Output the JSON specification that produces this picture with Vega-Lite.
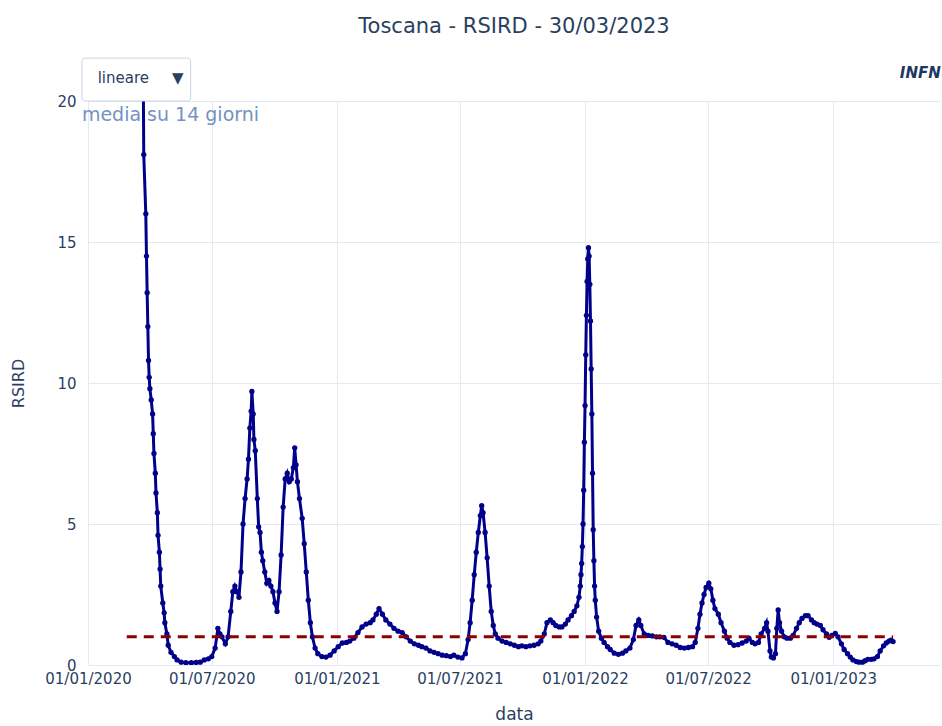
{
  "$schema": "https://vega.github.io/schema/vega-lite/v6.json",
  "width": 852,
  "height": 564,
  "autosize": {"type": "none"},
  "padding": {"left": 88, "top": 101, "right": 2, "bottom": 61},
  "background": "white",
  "config": {
    "font": "DejaVu Sans",
    "view": {"stroke": null},
    "axis": {
      "domain": false,
      "ticks": false,
      "grid": true,
      "gridColor": "#e4e9f2",
      "gridWidth": 1,
      "labelColor": "#2a3f5f",
      "labelFontSize": 15,
      "titleColor": "#2a3f5f",
      "titleFontSize": 17,
      "titleFontWeight": "normal",
      "labelFont": "DejaVu Sans",
      "titleFont": "DejaVu Sans"
    }
  },
  "title": {
    "text": "Toscana - RSIRD - 30/03/2023",
    "fontSize": 21,
    "fontWeight": "normal",
    "color": "#2a3f5f",
    "anchor": "middle",
    "offset": 21,
    "font": "DejaVu Sans"
  },
  "datasets": {
    "serie": [
      {"data": "2020-02-27", "R": 300},
      {"data": "2020-03-10", "R": 80},
      {"data": "2020-03-19", "R": 30},
      {"data": "2020-03-22", "R": 22},
      {"data": "2020-03-23", "R": 18.1},
      {"data": "2020-03-26", "R": 16.0},
      {"data": "2020-03-27", "R": 14.5},
      {"data": "2020-03-28", "R": 13.2},
      {"data": "2020-03-29", "R": 12.0},
      {"data": "2020-03-30", "R": 10.8},
      {"data": "2020-03-31", "R": 10.2},
      {"data": "2020-04-01", "R": 9.8},
      {"data": "2020-04-03", "R": 9.4},
      {"data": "2020-04-05", "R": 8.9},
      {"data": "2020-04-06", "R": 8.2},
      {"data": "2020-04-07", "R": 7.5},
      {"data": "2020-04-09", "R": 6.8},
      {"data": "2020-04-10", "R": 6.1},
      {"data": "2020-04-12", "R": 5.4},
      {"data": "2020-04-13", "R": 4.6},
      {"data": "2020-04-15", "R": 4.0},
      {"data": "2020-04-16", "R": 3.4},
      {"data": "2020-04-17", "R": 2.8},
      {"data": "2020-04-20", "R": 2.2},
      {"data": "2020-04-22", "R": 1.85},
      {"data": "2020-04-23", "R": 1.5},
      {"data": "2020-04-26", "R": 1.1},
      {"data": "2020-04-28", "R": 0.7},
      {"data": "2020-05-02", "R": 0.45},
      {"data": "2020-05-07", "R": 0.3},
      {"data": "2020-05-11", "R": 0.18},
      {"data": "2020-05-17", "R": 0.1},
      {"data": "2020-05-24", "R": 0.08},
      {"data": "2020-06-01", "R": 0.08},
      {"data": "2020-06-08", "R": 0.09},
      {"data": "2020-06-14", "R": 0.1},
      {"data": "2020-06-20", "R": 0.18},
      {"data": "2020-06-26", "R": 0.22},
      {"data": "2020-07-01", "R": 0.3},
      {"data": "2020-07-06", "R": 0.6},
      {"data": "2020-07-10", "R": 1.3},
      {"data": "2020-07-13", "R": 1.1},
      {"data": "2020-07-16", "R": 1.0},
      {"data": "2020-07-21", "R": 0.75},
      {"data": "2020-07-25", "R": 1.0},
      {"data": "2020-07-29", "R": 1.9},
      {"data": "2020-08-01", "R": 2.6},
      {"data": "2020-08-04", "R": 2.8},
      {"data": "2020-08-07", "R": 2.6},
      {"data": "2020-08-10", "R": 2.4},
      {"data": "2020-08-13", "R": 3.3},
      {"data": "2020-08-16", "R": 5.0},
      {"data": "2020-08-19", "R": 5.9},
      {"data": "2020-08-22", "R": 6.6},
      {"data": "2020-08-24", "R": 7.3},
      {"data": "2020-08-26", "R": 8.4},
      {"data": "2020-08-28", "R": 9.0},
      {"data": "2020-08-29", "R": 9.7},
      {"data": "2020-08-31", "R": 8.9},
      {"data": "2020-09-01", "R": 8.0},
      {"data": "2020-09-03", "R": 7.6},
      {"data": "2020-09-06", "R": 5.9},
      {"data": "2020-09-08", "R": 4.9},
      {"data": "2020-09-10", "R": 4.7},
      {"data": "2020-09-12", "R": 4.0},
      {"data": "2020-09-14", "R": 3.7},
      {"data": "2020-09-17", "R": 3.3},
      {"data": "2020-09-20", "R": 2.9},
      {"data": "2020-09-23", "R": 3.0},
      {"data": "2020-09-26", "R": 2.8},
      {"data": "2020-09-29", "R": 2.6},
      {"data": "2020-10-02", "R": 2.2},
      {"data": "2020-10-05", "R": 1.9},
      {"data": "2020-10-08", "R": 2.6},
      {"data": "2020-10-11", "R": 3.9},
      {"data": "2020-10-14", "R": 5.6},
      {"data": "2020-10-17", "R": 6.6},
      {"data": "2020-10-20", "R": 6.8},
      {"data": "2020-10-23", "R": 6.5},
      {"data": "2020-10-26", "R": 6.6},
      {"data": "2020-10-29", "R": 7.0},
      {"data": "2020-10-31", "R": 7.7},
      {"data": "2020-11-02", "R": 7.1},
      {"data": "2020-11-04", "R": 6.5},
      {"data": "2020-11-07", "R": 5.9},
      {"data": "2020-11-11", "R": 5.2},
      {"data": "2020-11-14", "R": 4.3},
      {"data": "2020-11-17", "R": 3.3},
      {"data": "2020-11-20", "R": 2.3},
      {"data": "2020-11-23", "R": 1.5},
      {"data": "2020-11-26", "R": 1.0},
      {"data": "2020-11-30", "R": 0.6},
      {"data": "2020-12-04", "R": 0.4},
      {"data": "2020-12-10", "R": 0.3},
      {"data": "2020-12-16", "R": 0.28},
      {"data": "2020-12-22", "R": 0.35},
      {"data": "2020-12-28", "R": 0.5},
      {"data": "2021-01-03", "R": 0.65},
      {"data": "2021-01-09", "R": 0.78},
      {"data": "2021-01-15", "R": 0.8},
      {"data": "2021-01-20", "R": 0.85},
      {"data": "2021-01-26", "R": 0.95},
      {"data": "2021-02-01", "R": 1.15},
      {"data": "2021-02-07", "R": 1.35},
      {"data": "2021-02-13", "R": 1.45},
      {"data": "2021-02-19", "R": 1.5},
      {"data": "2021-02-23", "R": 1.6},
      {"data": "2021-02-28", "R": 1.8},
      {"data": "2021-03-04", "R": 2.0},
      {"data": "2021-03-09", "R": 1.8},
      {"data": "2021-03-14", "R": 1.6},
      {"data": "2021-03-20", "R": 1.45},
      {"data": "2021-03-26", "R": 1.3},
      {"data": "2021-04-01", "R": 1.2},
      {"data": "2021-04-07", "R": 1.15},
      {"data": "2021-04-13", "R": 1.0},
      {"data": "2021-04-19", "R": 0.85},
      {"data": "2021-04-25", "R": 0.75},
      {"data": "2021-05-01", "R": 0.7},
      {"data": "2021-05-06", "R": 0.65},
      {"data": "2021-05-12", "R": 0.6},
      {"data": "2021-05-18", "R": 0.5},
      {"data": "2021-05-24", "R": 0.45},
      {"data": "2021-05-30", "R": 0.4},
      {"data": "2021-06-05", "R": 0.35},
      {"data": "2021-06-11", "R": 0.33},
      {"data": "2021-06-17", "R": 0.3},
      {"data": "2021-06-22", "R": 0.35},
      {"data": "2021-06-28", "R": 0.28},
      {"data": "2021-07-04", "R": 0.25},
      {"data": "2021-07-09", "R": 0.4},
      {"data": "2021-07-13", "R": 0.9},
      {"data": "2021-07-16", "R": 1.5},
      {"data": "2021-07-19", "R": 2.3},
      {"data": "2021-07-22", "R": 3.2},
      {"data": "2021-07-25", "R": 4.0},
      {"data": "2021-07-28", "R": 4.7},
      {"data": "2021-07-31", "R": 5.3},
      {"data": "2021-08-02", "R": 5.65},
      {"data": "2021-08-04", "R": 5.4},
      {"data": "2021-08-07", "R": 4.7},
      {"data": "2021-08-10", "R": 3.8},
      {"data": "2021-08-13", "R": 2.8},
      {"data": "2021-08-16", "R": 1.9},
      {"data": "2021-08-19", "R": 1.4},
      {"data": "2021-08-22", "R": 1.1},
      {"data": "2021-08-26", "R": 0.95},
      {"data": "2021-09-01", "R": 0.85},
      {"data": "2021-09-07", "R": 0.8},
      {"data": "2021-09-13", "R": 0.75},
      {"data": "2021-09-19", "R": 0.7},
      {"data": "2021-09-25", "R": 0.65},
      {"data": "2021-09-30", "R": 0.68},
      {"data": "2021-10-06", "R": 0.65},
      {"data": "2021-10-12", "R": 0.68},
      {"data": "2021-10-18", "R": 0.7},
      {"data": "2021-10-24", "R": 0.75},
      {"data": "2021-10-28", "R": 0.85},
      {"data": "2021-11-02", "R": 1.1},
      {"data": "2021-11-06", "R": 1.5},
      {"data": "2021-11-11", "R": 1.6},
      {"data": "2021-11-15", "R": 1.5},
      {"data": "2021-11-19", "R": 1.4},
      {"data": "2021-11-24", "R": 1.35},
      {"data": "2021-11-28", "R": 1.35},
      {"data": "2021-12-03", "R": 1.45},
      {"data": "2021-12-07", "R": 1.6},
      {"data": "2021-12-12", "R": 1.75},
      {"data": "2021-12-16", "R": 1.9},
      {"data": "2021-12-20", "R": 2.1},
      {"data": "2021-12-23", "R": 2.4},
      {"data": "2021-12-25", "R": 2.8},
      {"data": "2021-12-26", "R": 3.2},
      {"data": "2021-12-27", "R": 3.6},
      {"data": "2021-12-28", "R": 4.2},
      {"data": "2021-12-29", "R": 5.0},
      {"data": "2021-12-30", "R": 6.2},
      {"data": "2021-12-31", "R": 7.9},
      {"data": "2022-01-01", "R": 9.2},
      {"data": "2022-01-02", "R": 11.0},
      {"data": "2022-01-03", "R": 12.4},
      {"data": "2022-01-04", "R": 13.6},
      {"data": "2022-01-05", "R": 14.4},
      {"data": "2022-01-06", "R": 14.8},
      {"data": "2022-01-07", "R": 14.5},
      {"data": "2022-01-08", "R": 13.5},
      {"data": "2022-01-09", "R": 12.2},
      {"data": "2022-01-10", "R": 10.5},
      {"data": "2022-01-11", "R": 8.9},
      {"data": "2022-01-12", "R": 6.8},
      {"data": "2022-01-13", "R": 4.8},
      {"data": "2022-01-14", "R": 3.7},
      {"data": "2022-01-15", "R": 2.8},
      {"data": "2022-01-16", "R": 2.3},
      {"data": "2022-01-18", "R": 1.7},
      {"data": "2022-01-21", "R": 1.2},
      {"data": "2022-01-25", "R": 0.95},
      {"data": "2022-01-29", "R": 0.8},
      {"data": "2022-02-03", "R": 0.65},
      {"data": "2022-02-07", "R": 0.55},
      {"data": "2022-02-13", "R": 0.42},
      {"data": "2022-02-19", "R": 0.38},
      {"data": "2022-02-25", "R": 0.42},
      {"data": "2022-03-02", "R": 0.5},
      {"data": "2022-03-08", "R": 0.6},
      {"data": "2022-03-13", "R": 0.9},
      {"data": "2022-03-17", "R": 1.4},
      {"data": "2022-03-21", "R": 1.6},
      {"data": "2022-03-24", "R": 1.4},
      {"data": "2022-03-29", "R": 1.1},
      {"data": "2022-04-04", "R": 1.05},
      {"data": "2022-04-10", "R": 1.03},
      {"data": "2022-04-16", "R": 1.0},
      {"data": "2022-04-21", "R": 1.0},
      {"data": "2022-04-27", "R": 0.98},
      {"data": "2022-05-03", "R": 0.8},
      {"data": "2022-05-09", "R": 0.75},
      {"data": "2022-05-15", "R": 0.7},
      {"data": "2022-05-21", "R": 0.62},
      {"data": "2022-05-27", "R": 0.6},
      {"data": "2022-06-02", "R": 0.62},
      {"data": "2022-06-08", "R": 0.65},
      {"data": "2022-06-12", "R": 0.8},
      {"data": "2022-06-16", "R": 1.3},
      {"data": "2022-06-19", "R": 1.8},
      {"data": "2022-06-22", "R": 2.2},
      {"data": "2022-06-25", "R": 2.5},
      {"data": "2022-06-28", "R": 2.75},
      {"data": "2022-07-02", "R": 2.9},
      {"data": "2022-07-05", "R": 2.7},
      {"data": "2022-07-08", "R": 2.3},
      {"data": "2022-07-11", "R": 2.0},
      {"data": "2022-07-16", "R": 1.8},
      {"data": "2022-07-20", "R": 1.5},
      {"data": "2022-07-25", "R": 1.2},
      {"data": "2022-07-29", "R": 0.95},
      {"data": "2022-08-02", "R": 0.8},
      {"data": "2022-08-08", "R": 0.7},
      {"data": "2022-08-14", "R": 0.72},
      {"data": "2022-08-20", "R": 0.78},
      {"data": "2022-08-26", "R": 0.85},
      {"data": "2022-08-30", "R": 0.95},
      {"data": "2022-09-04", "R": 0.8},
      {"data": "2022-09-08", "R": 0.75},
      {"data": "2022-09-13", "R": 0.8},
      {"data": "2022-09-17", "R": 1.1},
      {"data": "2022-09-22", "R": 1.3},
      {"data": "2022-09-25", "R": 1.5},
      {"data": "2022-09-27", "R": 1.2},
      {"data": "2022-09-30", "R": 0.5},
      {"data": "2022-10-02", "R": 0.28},
      {"data": "2022-10-05", "R": 0.25},
      {"data": "2022-10-08", "R": 0.4},
      {"data": "2022-10-10", "R": 1.3},
      {"data": "2022-10-12", "R": 1.95},
      {"data": "2022-10-14", "R": 1.5},
      {"data": "2022-10-17", "R": 1.2},
      {"data": "2022-10-21", "R": 1.0},
      {"data": "2022-10-25", "R": 0.95},
      {"data": "2022-10-30", "R": 0.95},
      {"data": "2022-11-03", "R": 1.05},
      {"data": "2022-11-08", "R": 1.3},
      {"data": "2022-11-12", "R": 1.5},
      {"data": "2022-11-16", "R": 1.65},
      {"data": "2022-11-21", "R": 1.75},
      {"data": "2022-11-25", "R": 1.75},
      {"data": "2022-11-30", "R": 1.6},
      {"data": "2022-12-04", "R": 1.5},
      {"data": "2022-12-08", "R": 1.45},
      {"data": "2022-12-13", "R": 1.4},
      {"data": "2022-12-17", "R": 1.25},
      {"data": "2022-12-22", "R": 1.1},
      {"data": "2022-12-26", "R": 0.98},
      {"data": "2022-12-30", "R": 1.05},
      {"data": "2023-01-04", "R": 1.12},
      {"data": "2023-01-08", "R": 1.0},
      {"data": "2023-01-13", "R": 0.75},
      {"data": "2023-01-17", "R": 0.55},
      {"data": "2023-01-22", "R": 0.4},
      {"data": "2023-01-26", "R": 0.28},
      {"data": "2023-01-30", "R": 0.18},
      {"data": "2023-02-04", "R": 0.12},
      {"data": "2023-02-08", "R": 0.1},
      {"data": "2023-02-13", "R": 0.1},
      {"data": "2023-02-17", "R": 0.15},
      {"data": "2023-02-21", "R": 0.2},
      {"data": "2023-02-26", "R": 0.2},
      {"data": "2023-03-02", "R": 0.22},
      {"data": "2023-03-07", "R": 0.3},
      {"data": "2023-03-11", "R": 0.5},
      {"data": "2023-03-16", "R": 0.68},
      {"data": "2023-03-20", "R": 0.78},
      {"data": "2023-03-24", "R": 0.85},
      {"data": "2023-03-27", "R": 0.88},
      {"data": "2023-03-30", "R": 0.83}
    ],
    "soglia": [
      {"data": "2020-02-27", "R": 1},
      {"data": "2023-03-30", "R": 1}
    ]
  },
  "layer": [
    {
      "data": {"name": "serie"},
      "mark": {"type": "line", "color": "#00008b", "strokeWidth": 3, "clip": true},
      "encoding": {
        "x": {
          "field": "data",
          "type": "temporal",
          "scale": {"type": "utc", "domain": [{"year": 2020, "month": 1, "date": 1, "utc": true}, {"year": 2023, "month": 6, "date": 7, "utc": true}]},
          "axis": {
            "title": "data",
            "grid": true,
            "values": [
              {"year": 2020, "month": 1, "date": 1, "utc": true},
              {"year": 2020, "month": 7, "date": 1, "utc": true},
              {"year": 2021, "month": 1, "date": 1, "utc": true},
              {"year": 2021, "month": 7, "date": 1, "utc": true},
              {"year": 2022, "month": 1, "date": 1, "utc": true},
              {"year": 2022, "month": 7, "date": 1, "utc": true},
              {"year": 2023, "month": 1, "date": 1, "utc": true}
            ],
            "format": "%d/%m/%Y",
            "labelPadding": 6,
            "titlePadding": 20,
            "labelFlush": false
          }
        },
        "y": {
          "field": "R",
          "type": "quantitative",
          "scale": {"domain": [0, 20], "nice": false, "zero": true},
          "axis": {"title": "RSIRD", "grid": true, "values": [0, 5, 10, 15, 20], "labelPadding": 12, "titlePadding": 30, "titleFontSize": 16}
        }
      }
    },
    {
      "data": {"name": "serie"},
      "mark": {"type": "point", "filled": true, "color": "#00008b", "size": 28, "opacity": 1, "clip": true},
      "encoding": {
        "x": {"field": "data", "type": "temporal"},
        "y": {"field": "R", "type": "quantitative"}
      }
    },
    {
      "data": {"name": "soglia"},
      "mark": {"type": "line", "color": "#8b0000", "strokeWidth": 3, "strokeDash": [10, 7], "clip": true},
      "encoding": {
        "x": {"field": "data", "type": "temporal"},
        "y": {"field": "R", "type": "quantitative"}
      }
    },
    {
      "data": {"values": [{}]},
      "mark": {"type": "text", "text": "media su 14 giorni", "fontSize": 19, "color": "#7492bf", "align": "left", "baseline": "middle"},
      "encoding": {
        "x": {"datum": {"year": 2019, "month": 12, "date": 23, "utc": true}, "type": "temporal"},
        "y": {"datum": 19.5, "type": "quantitative"}
      }
    },
    {
      "data": {"values": [{}]},
      "mark": {"type": "rect", "fill": "white", "stroke": "#c8d4e3", "strokeWidth": 1, "cornerRadius": 3},
      "encoding": {
        "x": {"datum": {"year": 2019, "month": 12, "date": 23, "utc": true}, "type": "temporal"},
        "x2": {"datum": {"year": 2020, "month": 5, "date": 31, "utc": true}},
        "y": {"datum": 20.0, "type": "quantitative"},
        "y2": {"datum": 21.52}
      }
    },
    {
      "data": {"values": [{}]},
      "mark": {"type": "text", "text": "lineare", "fontSize": 15, "color": "#2a3f5f", "align": "center", "baseline": "middle"},
      "encoding": {
        "x": {"datum": {"year": 2020, "month": 2, "date": 22, "utc": true}, "type": "temporal"},
        "y": {"datum": 20.8, "type": "quantitative"}
      }
    },
    {
      "data": {"values": [{}]},
      "mark": {"type": "text", "text": "▼", "fontSize": 15, "color": "#2a3f5f", "align": "center", "baseline": "middle"},
      "encoding": {
        "x": {"datum": {"year": 2020, "month": 5, "date": 12, "utc": true}, "type": "temporal"},
        "y": {"datum": 20.82, "type": "quantitative"}
      }
    },
    {
      "data": {"values": [{}]},
      "mark": {"type": "text", "text": "INFN", "fontSize": 15, "fontStyle": "italic", "fontWeight": "bold", "color": "#1d3763", "align": "center", "baseline": "middle"},
      "encoding": {
        "x": {"datum": {"year": 2023, "month": 5, "date": 9, "utc": true}, "type": "temporal"},
        "y": {"datum": 21.0, "type": "quantitative"}
      }
    }
  ]
}
